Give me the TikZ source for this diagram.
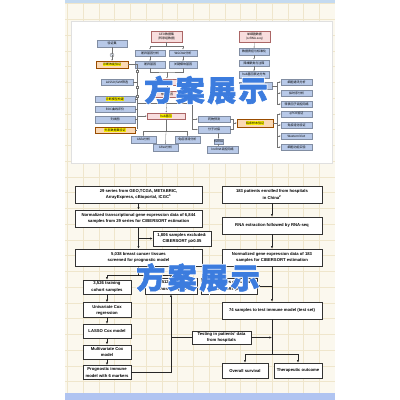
\documentclass[tikz,border=0pt]{standalone}
\usepackage{fontspec}
\setsansfont{Liberation Sans}
\newfontfamily\cjk{Noto Sans CJK SC}
\newfontfamily\stamphalo{Noto Sans CJK SC}[FakeBold=7]
\newfontfamily\stampface{Noto Sans CJK SC}[FakeBold=2]
\usetikzlibrary{positioning, arrows.meta, calc}
\definecolor{paper}{HTML}{FBF8EE}
\definecolor{gridline}{HTML}{EFE6CC}
\definecolor{bandblue}{HTML}{C4DAF0}
\definecolor{cellblue}{HTML}{B8C9E8}
\definecolor{cellpink}{HTML}{F8DEDE}
\definecolor{cellorange}{HTML}{FAD9B4}
\definecolor{hlyellow}{HTML}{FFF200}
\definecolor{stampblue}{HTML}{3C7CDE}
\newcommand{\hlt}[1]{{\setlength{\fboxsep}{0.3pt}\colorbox{hlyellow}{#1}}}
\newcommand{\stamptext}{方\kern2.5pt案\kern2.5pt展\kern2.5pt示}

\begin{document}
\begin{tikzpicture}[x=1pt, y=-1pt,
  cell/.style={draw=cellblue!70!black, line width=0.3pt, fill=cellblue, minimum width=30pt, minimum height=6.5pt, inner sep=0pt, align=center, font=\cjk\fontsize{3}{3.6}\selectfont},
  pinkcell/.style={cell, draw=red!45!black!60, fill=cellpink},
  orangecell/.style={cell, draw=orange!60!black, fill=cellorange},
  box/.style={draw=black!80, line width=0.6pt, fill=white, inner sep=0pt, align=center, font=\sffamily\bfseries\fontsize{4.2}{6.2}\selectfont},
  tline/.style={draw=black!55, line width=0.3pt},
  tarrow/.style={tline, -{Latex[length=1.4pt, width=1.2pt]}},
  arrow/.style={-{Latex[length=2.6pt, width=2.2pt]}, line width=0.6pt, black!85},
  halo/.style={font=\stamphalo\bfseries\fontsize{29}{29}\selectfont, inner sep=0pt, text=white},
  stamp/.style={font=\stampface\bfseries\fontsize{29}{29}\selectfont, inner sep=0pt, text=stampblue}
]
  \useasboundingbox (0,0) rectangle (400,400);
  \fill[white] (0,0) rectangle (400,400);
  \fill[paper] (65,0) rectangle (335,400);
  \foreach \gx in {0,...,16} \draw[gridline, line width=0.5pt] ({67.3+15.75*\gx},3) -- ({67.3+15.75*\gx},393);
  \foreach \gy in {0,...,24} \draw[gridline, line width=0.5pt] (65,{3.7+15.75*\gy}) -- (335,{3.7+15.75*\gy});
  \fill[bandblue] (65,0) rectangle (335,3);
  \fill[bandblue!90!blue] (65,393) rectangle (335,400);
  \filldraw[fill=white, draw=black!12, line width=0.3pt] (71,21) rectangle (332,163);

  % upper plan
  \node[pinkcell, minimum width=31pt, minimum height=11pt] (geo) at (166.5,36.5) {GEO数据集\\(转录组数据)};
  \node[pinkcell, minimum width=31pt, minimum height=11pt] (sc) at (254.5,36.5) {单细胞数据\\(scRNA-seq)};
  \node[cell] (dea) at (150,53) {差异基因分析};
  \node[cell, minimum width=28pt] (wgcna) at (183,53) {WGCNA分析};
  \node[cell] (deg) at (150,64.5) {差异基因};
  \node[cell, minimum width=28pt] (mod) at (183,64.5) {关键模块基因};
  \node[pinkcell, minimum width=24pt] (inter) at (167,82) {交集基因};
  \node[pinkcell, minimum width=24pt] (cand) at (167,94) {候选基因};
  \node[pinkcell, minimum width=38pt] (hub) at (166,116) {\hlt{hub基因}};
  \node[cell, minimum width=25pt] (gsea) at (143.5,139.5) {GSEA分析};
  \node[cell, minimum width=25pt] (immu) at (187.5,139.5) {免疫浸润分析};
  \node[cell, minimum width=25pt] (gsva) at (165.5,147.5) {GSVA分析};

  \node[cell] (valid) at (112,43.5) {验证集};
  \draw[tline, fill=cellblue!40] (112,55) circle (2pt);
  \coordinate (dot) at (112,55);
  \node[orangecell, minimum width=32pt, minimum height=7pt] (roc) at (112,64.5) {\hlt{诊断效能验证}};
  \node[cell, minimum width=32pt] (lasso) at (117,82) {LASSO/SVM筛选};
  \node[cell, minimum width=40pt] (model) at (115,99) {\hlt{诊断模型构建}};
  \node[cell, minimum width=40pt, below=3.5pt of model] (rocv) {ROC曲线评价};
  \node[cell, minimum width=40pt, below=3.5pt of rocv] (nomo) {列线图};
  \node[orangecell, minimum width=40pt, below=3.5pt of nomo] (ext) {\hlt{外部数据集验证}};

  \node[cell] (qc) at (254,51.5) {数据质控与标准化};
  \node[cell] (umap) at (254,63) {降维聚类与注释};
  \node[cell] (expr) at (254,74.5) {hub基因表达分布};
  \node[cell, minimum width=33pt, minimum height=7pt] (sub) at (255.5,86) {关键细胞亚群};
  \node[cell, minimum width=31pt] (comm) at (296.5,82) {细胞通讯分析};
  \node[cell, minimum width=31pt] (traj) at (296.5,93) {拟时序分析};
  \node[cell, minimum width=31pt] (tf) at (296.5,104) {转录因子调控网络};

  \node[cell, minimum width=32pt] (drug) at (214,119) {药物预测};
  \node[cell, minimum width=32pt] (dock) at (214,129.5) {分子对接};
  \node[cell, minimum width=9pt, minimum height=5pt] (mirna) at (218.5,141.5) {miRNA};
  \node[cell, minimum width=31pt] (lnc) at (222.5,149.5) {lncRNA调控网络};
  \node[orangecell, minimum width=36pt, minimum height=7.5pt] (clin) at (255,123) {\hlt{临床样本验证}};
  \node[cell, minimum width=31pt] (pcr) at (296.5,114) {qPCR验证};
  \node[cell, minimum width=31pt] (ihc) at (296.5,125) {免疫组化验证};
  \node[cell, minimum width=31pt] (wb) at (296.5,136) {Western blot};
  \node[cell, minimum width=31pt] (func) at (296.5,147) {细胞功能实验};

  \coordinate (lbar) at (137,0);
  \coordinate (rbar) at (277,0);
  \draw[tarrow] (geo.south) -- ++(0,4) -| (dea.north);
  \draw[tarrow] (geo.south) -- ++(0,4) -| (wgcna.north);
  \draw[tarrow] (dea) -- (deg);
  \draw[tarrow] (wgcna) -- (mod);
  \draw[tline] (deg.south) |- (167,72) -| (mod.south);
  \draw[tarrow] (167,72) -- (inter.north);
  \draw[tarrow] (inter) -- (cand);
  \draw[tarrow] (cand) -- (hub);
  \draw[tline] (137,103) -- (192,103);
  \draw[tarrow] (192,103) |- (drug.west);
  \draw[tarrow] (192,119) |- (dock.west);
  \draw[tarrow] (valid) -- (dot);
  \draw[tarrow] (dot) -- (roc);
  \draw[tline] (roc.east) -- (137,64.5) -- (137,129);
  \foreach \nd in {lasso, model, rocv, nomo, ext} \draw[tline] (\nd.east) -- (\nd.east -| lbar);
  \foreach \yy in {71,87,96} \draw[tline, fill=white] (135.8,\yy-1.2) rectangle ++(2.4,2.4);
  \draw[tarrow] (137,116) -- (hub.west);
  \draw[tline] (hub.south) -- ++(0,12) coordinate (hubsplit);
  \draw[tarrow] (hubsplit) -| (gsea.north);
  \draw[tarrow] (hubsplit) -| (immu.north);
  \draw[tarrow] (hubsplit) -- (gsva.north);
  \draw[tline] (drug.east) -- (233,119) -- (233,129.5) -- (dock.east);
  \draw[tarrow] (233,123) -- (clin.west);
  \draw[tarrow] (mirna.north |- dock.south) -- (mirna.north);
  \draw[tarrow] (mirna.south) -- (mirna.south |- lnc.north);
  \draw[tarrow] (sc) -- (qc);
  \draw[tarrow] (qc) -- (umap);
  \draw[tarrow] (umap) -- (expr);
  \draw[tarrow] (expr.south) -- (expr.south |- sub.north);
  \draw[tline] (sub.east) -- (277,86);
  \draw[tline] (277,82) -- (277,104);
  \foreach \nd in {comm, traj, tf} \draw[tarrow] (\nd.west -| rbar) -- (\nd.west);
  \draw[tline] (clin.east) -- (277,123);
  \draw[tline] (277,114) -- (277,147);
  \foreach \nd in {pcr, ihc, wb, func} \draw[tarrow] (\nd.west -| rbar) -- (\nd.west);

  % lower flow chart
  \node[box, minimum width=127pt, minimum height=17pt] (series) at (138.5,194.5) {29 series from GEO,TCGA, METABRIC,\\ArrayExpress, cBioportal, ICGC\textsuperscript{1}};
  \node[box, minimum width=127pt, minimum height=17pt] (norm) at (138.5,218.5) {Normalized transcriptional gene expression data of 6,844\\samples from 29 series for CIBERSORT estimation};
  \node[box, minimum width=58pt, minimum height=15pt] (excl) at (182,238.5) {1,806 samples excluded:\\CIBERSORT p≥0.05};
  \node[box, minimum width=127pt, minimum height=17pt] (tissue) at (138.5,257.5) {5,038 breast cancer tissues\\screened for prognostic model};
  \node[box, minimum width=48pt, minimum height=14pt] (train) at (107,287) {3,526 training\\cohort samples};
  \node[box, minimum width=52pt, minimum height=16pt] (test) at (171,286) {1,512 testing\\cohort samples};
  \node[box, minimum width=48pt, minimum height=15pt, below=8pt of train] (unicox) {Univariate Cox\\regression};
  \node[box, minimum width=48pt, minimum height=14pt, below=6pt of unicox] (lassocox) {LASSO Cox model};
  \node[box, minimum width=48pt, minimum height=14pt, below=6pt of lassocox] (multicox) {Multivariate Cox\\model};
  \node[box, minimum width=48pt, minimum height=14pt, below=6pt of multicox] (immmodel) {Prognostic immune\\model with 6 markers};

  \node[box, minimum width=100pt, minimum height=17pt] (patients) at (272,194.5) {183 patients enrolled from hospitals\\in China\textsuperscript{2}};
  \node[box, minimum width=100pt, minimum height=17pt] (rnaseq) at (272,225.5) {RNA extraction followed by RNA-seq};
  \node[box, minimum width=100pt, minimum height=17pt] (normhosp) at (272,257.5) {Normalized gene expression data of 183\\samples for CIBERSORT estimation};
  \node[box, minimum width=56pt, minimum height=16pt] (exclhosp) at (229,286) {109 samples excluded:\\CIBERSORT p≥0.05};
  \node[box, minimum width=100pt, minimum height=17pt] (testset) at (272,310.5) {74 samples to test immune model (test set)};
  \node[box, minimum width=59pt, minimum height=13pt] (hosptest) at (221.5,337.5) {Testing in patients' data\\from hospitals};
  \node[box, minimum width=46pt, minimum height=15pt] (os) at (245,370.5) {Overall survival};
  \node[box, minimum width=48pt, minimum height=15pt] (therapy) at (298,370.5) {Therapeutic outcome};

  \draw[arrow] (series) -- (norm);
  \draw[arrow] (norm) -- (tissue);
  \draw[arrow] (excl.west -| tissue.north) -- (excl.west);
  \draw[line width=0.6pt, black!85] (tissue.south) -- ++(0,8.5) coordinate (split);
  \draw[arrow] (split) -| (train.north);
  \draw[arrow] (split) -| (test.north);
  \draw[arrow] (train) -- (unicox);
  \draw[arrow] (unicox) -- (lassocox);
  \draw[arrow] (lassocox) -- (multicox);
  \draw[arrow] (multicox) -- (immmodel);
  \draw[arrow] (immmodel.east) -| (test.south);
  \draw[line width=0.6pt, black!85] (hosptest.west) -- (hosptest.west -| test.south);
  \draw[arrow] (patients) -- (rnaseq);
  \draw[arrow] (rnaseq) -- (normhosp);
  \draw[arrow] (normhosp) -- (testset);
  \draw[arrow] (exclhosp.east -| testset.north) -- (exclhosp.east);
  \draw[arrow] (hosptest.east) -- (hosptest.east -| testset.south);
  \draw[line width=0.6pt, black!85] (testset.south) -- ++(0,34.5) coordinate (outsplit);
  \draw[arrow] (outsplit) -| (os.north);
  \draw[arrow] (outsplit) -| (therapy.north);

  % stamps
  \foreach \cx/\cy in {206/90, 198/277.5} {
    \node[halo] at (\cx,\cy) {\stamptext};
    \node[stamp] at (\cx,\cy) {\stamptext};
  }
\end{tikzpicture}
\end{document}
